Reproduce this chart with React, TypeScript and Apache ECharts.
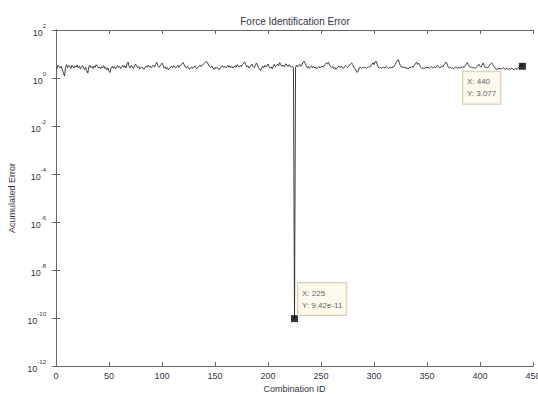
import React, { useEffect, useRef } from "react";
import * as echarts from "echarts";

const titleText = "Force Identification Error";
const xName = "Combination ID";
const yName = "Acumulated Error";

const xTicks = [0, 50, 100, 150, 200, 250, 300, 350, 400, 450];
const yExponents = [-12, -10, -8, -6, -4, -2, 0, 2];

// Accumulated error for combination IDs 1..440
const errors: number[] = [
  2.4, 3.4, 2.9, 2.6, 3.1, 2.2, 1.6, 1.2, 2.8, 3.6, 2.7, 3.3, 3.0, 2.5, 3.4, 2.9, 2.6, 3.2, 2.8, 3.5,
  2.7, 3.1, 2.4, 2.9, 3.3, 2.6, 2.2, 2.8, 2.0, 1.6, 2.9, 3.4, 2.7, 3.0, 2.5, 3.2, 2.8, 3.6, 3.1, 2.6,
  2.9, 2.4, 3.0, 2.7, 3.3, 2.5, 2.8, 2.2, 2.6, 1.9, 1.7, 2.7, 3.1, 2.6, 3.0, 2.4, 2.8, 3.3, 2.7, 3.0,
  2.5, 2.9, 3.4, 2.8, 3.2, 2.6, 3.9, 4.6, 3.0, 2.6, 3.3, 2.9, 2.5, 3.1, 3.8, 3.2, 2.7, 3.0, 2.4, 2.6,
  2.9, 2.5, 2.3, 2.7, 3.1, 2.8, 3.4, 2.9, 3.2, 2.6, 3.0, 3.5, 2.9, 3.7, 4.5, 3.3, 2.8, 3.1, 3.6, 4.2,
  3.4, 2.6, 2.9, 2.4, 2.7, 2.2, 2.5, 2.8, 3.1, 2.7, 3.3, 2.9, 2.6, 3.0, 3.4, 2.8, 3.2, 3.6, 3.9, 4.4,
  3.5, 2.9, 2.6, 3.1, 2.7, 2.3, 2.6, 2.9, 2.5, 2.8, 3.2, 2.7, 2.4, 2.8, 3.1, 3.5, 3.0, 3.3, 3.8, 4.1,
  4.6, 4.9, 4.2, 3.5, 3.0, 2.7, 3.1, 2.6, 2.3, 2.7, 2.5, 2.8, 2.4, 2.2, 2.6, 2.9, 3.3, 2.8, 3.1, 2.6,
  2.9, 3.4, 2.8, 3.2, 2.7, 3.0, 2.6, 2.9, 3.3, 2.8, 3.6, 3.1, 2.8, 3.4, 3.0, 3.7, 4.1, 4.7, 3.6, 2.9,
  3.2, 2.6, 2.9, 3.4, 3.8, 3.0, 2.7, 3.3, 4.2, 3.5, 2.8, 2.3, 2.0, 2.6, 3.1, 2.7, 3.4, 2.9, 3.2, 3.8,
  3.0, 2.6, 2.9, 2.4, 3.1, 3.7, 2.9, 3.3, 3.8, 3.2, 4.4, 3.6, 3.1, 3.5, 2.9, 3.3, 3.9, 3.4, 3.0, 3.6,
  3.2, 2.8, 3.1, 2.7, 9.42e-11, 2.8, 3.4, 2.9, 3.3, 3.7, 3.1, 3.6, 4.4, 5.0, 4.1, 3.3, 2.7, 3.0, 2.5, 2.8,
  3.2, 2.7, 3.1, 2.6, 2.9, 2.4, 2.7, 3.0, 2.6, 2.9, 3.2, 2.8, 3.3, 3.8, 4.3, 3.9, 4.5, 3.6, 3.0, 2.7,
  3.0, 2.5, 2.8, 2.3, 2.6, 2.9, 3.2, 2.8, 3.1, 2.7, 2.5, 2.9, 3.3, 3.0, 2.7, 3.1, 3.5, 3.9, 4.2, 3.6,
  2.8, 2.4, 2.1, 1.7, 1.9, 2.6, 2.8, 2.5, 2.7, 2.9, 2.6, 2.8, 2.5, 2.7, 3.0, 2.8, 3.1, 3.7, 4.3, 3.6,
  4.6, 5.0, 3.8, 2.9, 2.6, 2.8, 2.5, 2.7, 2.9, 2.6, 2.8, 3.0, 2.7, 2.5, 2.8, 2.6, 2.9, 2.7, 3.1, 3.6,
  4.4, 5.3, 5.8, 4.1, 3.2, 2.8, 3.0, 2.6, 2.9, 2.5, 2.7, 2.4, 2.6, 2.9, 2.7, 3.0, 2.8, 3.3, 3.9, 4.5,
  3.7, 4.2, 3.4, 2.8, 2.5, 2.7, 2.4, 2.6, 2.9, 2.6, 2.8, 2.5, 2.7, 3.0, 2.8, 2.6, 2.9, 2.7, 3.1, 3.4,
  2.9, 2.6, 2.8, 3.2, 2.9, 3.5, 4.1, 4.6, 3.8, 3.0, 2.6, 2.8, 2.5, 2.7, 2.4, 2.6, 2.9, 2.7, 2.5, 2.8,
  2.6, 2.9, 2.7, 3.0, 2.8, 3.2, 3.8, 4.4, 3.6, 3.0, 2.7, 2.9, 2.6, 2.8, 2.5, 2.7, 2.9, 3.2, 3.7, 3.1,
  2.8, 3.5, 4.2, 3.3, 2.7, 2.9, 2.6, 3.0, 3.4, 3.9, 4.3, 3.6, 3.1, 2.7, 2.5, 2.2, 2.4, 2.6, 2.3, 2.5,
  2.4, 2.7, 2.5, 2.3, 2.6, 2.4, 2.2, 2.5, 2.3, 2.6, 2.4, 2.2, 2.5, 2.4, 2.3, 2.6, 2.9, 3.3, 3.7, 3.077,
];

const tipIds = [225, 440];

export default function App() {
  const ref = useRef<HTMLDivElement>(null);
  useEffect(() => {
    if (!ref.current) return;
    const chart = echarts.init(ref.current, undefined, { renderer: "svg" });
    const font = "Liberation Sans, Arial, sans-serif";
    const textColor = "#333344";
    const axisColor = "#666";
    const lineData = errors.map((v, i) => [i + 1, v]);
    const tipData = tipIds.map((id) => [id, errors[id - 1]]);
    const tipPos = [
      [7, -32],
      [-56, 9],
    ];
    const yLabel = (v: number) => {
      const e = Math.round(Math.log10(v));
      return "{b|10}{s|" + e + "}";
    };
    chart.setOption({
      animation: false,
      backgroundColor: "#ffffff",
      title: {
        text: titleText,
        left: 290,
        textAlign: "center",
        top: 11,
        textStyle: { fontFamily: font, fontSize: 10, fontWeight: "normal", color: textColor },
      },
      grid: { left: 56, right: 5, top: 30, bottom: 28, outerBoundsMode: "none", containLabel: false },
      xAxis: [
        {
          type: "value",
          min: 0,
          max: 450,
          interval: 50,
          name: xName,
          nameLocation: "middle",
          nameGap: 16,
          nameTextStyle: { fontFamily: font, fontSize: 9, color: textColor },
          axisLine: { lineStyle: { color: axisColor, width: 1 } },
          axisTick: { inside: true, length: 4, lineStyle: { color: axisColor } },
          axisLabel: { fontFamily: font, fontSize: 9, color: textColor, margin: 5, showMaxLabel: true },
          splitLine: { show: false },
        },
        {
          type: "value",
          position: "top",
          min: 0,
          max: 450,
          interval: 50,
          axisLine: { show: true, lineStyle: { color: axisColor, width: 1 } },
          axisTick: { inside: true, length: 4, lineStyle: { color: axisColor } },
          axisLabel: { show: false },
          splitLine: { show: false },
        },
      ],
      yAxis: [
        {
          type: "log",
          logBase: 10,
          min: 1e-12,
          max: 100,
          interval: 2,
          name: yName,
          nameLocation: "middle",
          nameGap: 33,
          nameTextStyle: { fontFamily: font, fontSize: 9, color: textColor },
          axisLine: { show: true, lineStyle: { color: axisColor, width: 1 } },
          axisTick: { show: true, inside: true, length: 4, lineStyle: { color: axisColor } },
          axisLabel: {
            fontFamily: font,
            margin: 10,
            color: textColor,
            formatter: yLabel,
            rich: {
              b: { fontFamily: font, fontSize: 9, color: textColor, lineHeight: 14, verticalAlign: "bottom" },
              s: { fontFamily: font, fontSize: 6, color: textColor, lineHeight: 14, verticalAlign: "top" },
            },
          },
          minorTick: { show: false },
          splitLine: { show: false },
        },
        {
          type: "log",
          logBase: 10,
          position: "right",
          min: 1e-12,
          max: 100,
          interval: 2,
          axisLine: { show: true, lineStyle: { color: axisColor, width: 1 } },
          axisTick: { show: true, inside: true, length: 4, lineStyle: { color: axisColor } },
          axisLabel: { show: false },
          splitLine: { show: false },
        },
      ],
      series: [
        {
          type: "line",
          data: lineData,
          showSymbol: false,
          symbol: "none",
          lineStyle: { color: "#2a2a2a", width: 0.9 },
          z: 2,
        },
        {
          type: "scatter",
          data: tipData.map((d, i) => ({
            value: d,
            label: {
              show: true,
              position: tipPos[i],
              formatter: () => "X: " + d[0] + "\nY: " + d[1],
              fontFamily: font,
              fontSize: 8,
              lineHeight: 12,
              color: textColor,
              backgroundColor: "#fcf8e6",
              borderColor: "#c9c2a8",
              borderWidth: 1,
              padding: [4, 4, 4, 4],
              align: "left",
              verticalAlign: "top",
            },
          })),
          symbol: "rect",
          symbolSize: 7,
          itemStyle: { color: "#000" },
          z: 3,
        },
      ],
    });
    return () => chart.dispose();
  }, []);
  return <div ref={ref} style={{ position: "fixed", left: 0, top: 0, width: 538, height: 394 }} />;
}
